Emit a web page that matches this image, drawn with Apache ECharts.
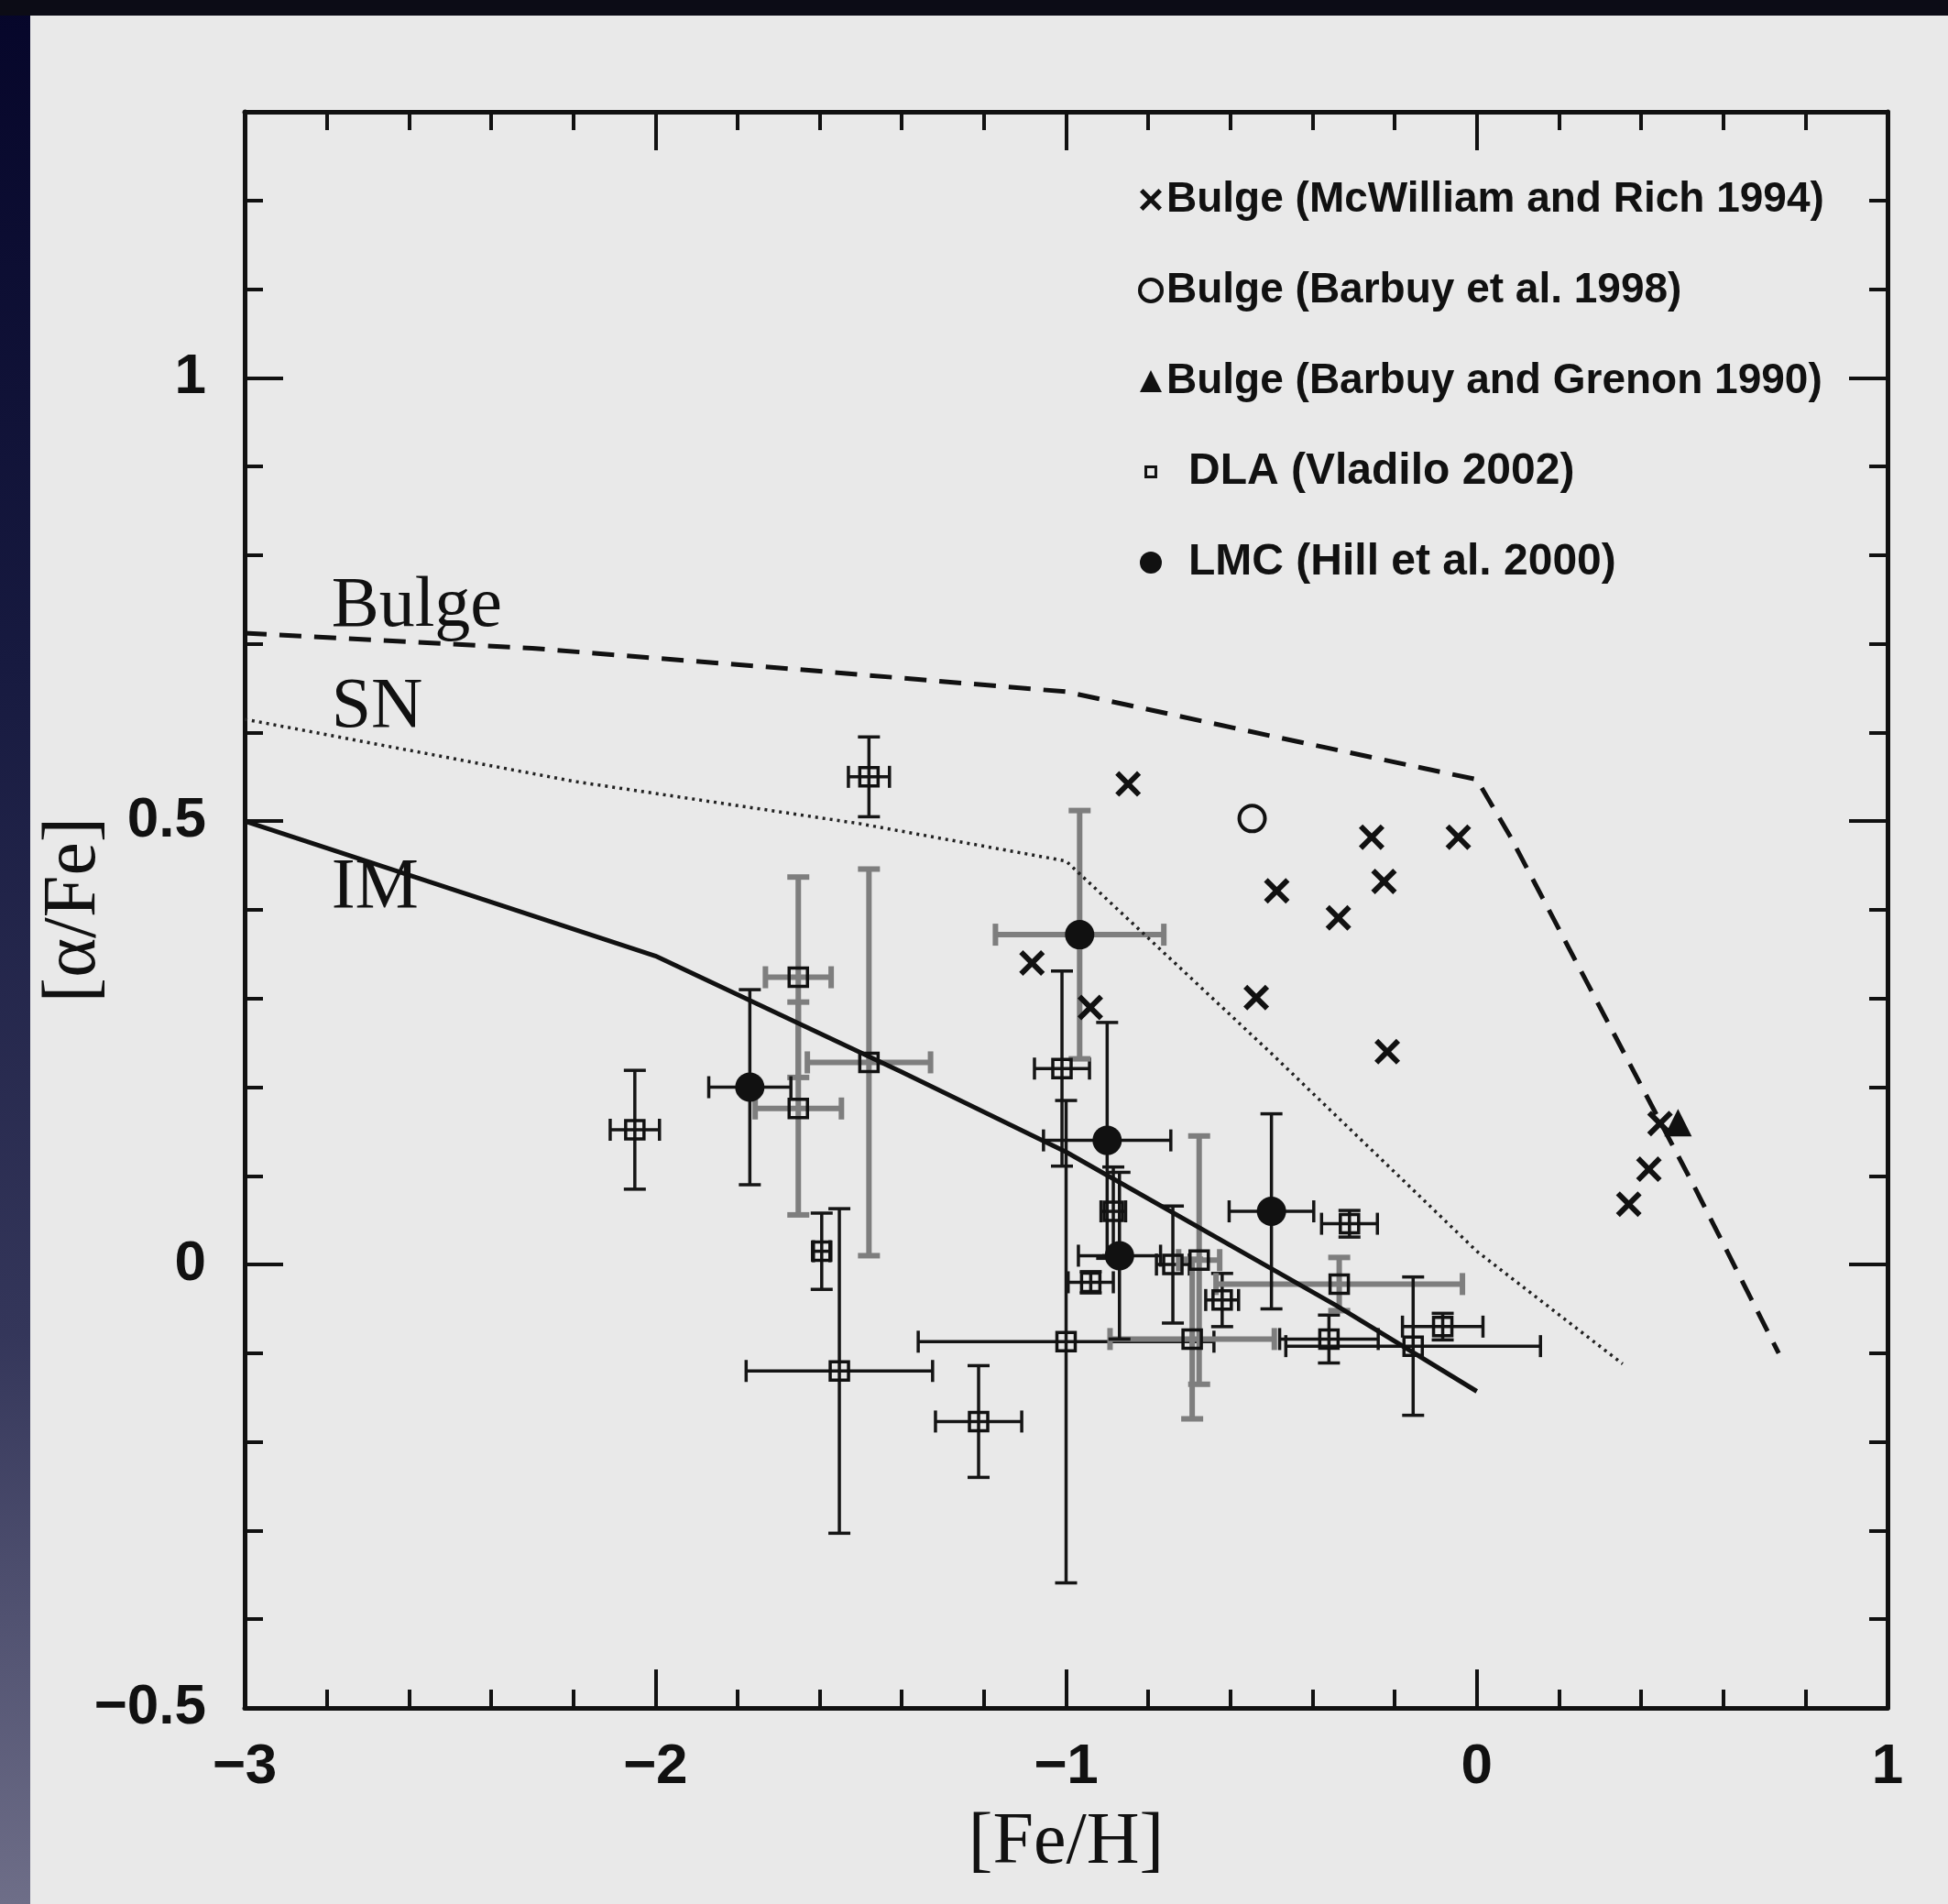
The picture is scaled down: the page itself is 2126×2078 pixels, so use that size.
<!DOCTYPE html>
<html>
<head>
<meta charset="utf-8">
<title>[α/Fe] vs [Fe/H]</title>
<script src="https://cdn.jsdelivr.net/npm/echarts@6.0.0/dist/echarts.min.js"></script>
<style>
  html, body { margin: 0; padding: 0; width: 2126px; height: 2078px; overflow: hidden; background: #e9e9e9; }
  #edgeLeft { position: absolute; left: 0; top: 0; width: 33px; height: 2078px;
    background: linear-gradient(to bottom, #06062a 0%, #171a40 35%, #34365a 70%, #6e6e88 100%); }
  #edgeTop { position: absolute; left: 0; top: 0; width: 2126px; height: 17px; background: #0c0c16; }
  #chart { position: absolute; left: 0; top: 0; width: 2126px; height: 2078px; }
</style>
</head>
<body>
<div id="edgeLeft"></div>
<div id="edgeTop"></div>
<div id="chart"></div>
<script>
// ---- Model tracks ----
const bulgeFeH   = [-3, -2.3, -1.65, -1, -0.5, 0, 0.08, 0.535, 0.735];
const bulgeAlpha = [0.712, 0.695, 0.671, 0.646, 0.596, 0.547, 0.484, 0.083, -0.10];

const snFeH   = [-3, -2.2, -1.5, -1, -0.5, 0, 0.355];
const snAlpha = [0.615, 0.545, 0.497, 0.455, 0.238, 0.015, -0.112];

const imFeH   = [-3, -2, -1.4, -1, -0.343, 0];
const imAlpha = [0.5, 0.348, 0.217, 0.127, -0.046, -0.143];

// ---- Bulge stars ----
const mrFeH   = [-1.083, -0.941, -0.849, -0.537, -0.487, -0.337, -0.256, -0.226, -0.218, -0.045, 0.37, 0.419, 0.446];
const mrAlpha = [0.34, 0.29, 0.542, 0.301, 0.4215, 0.391, 0.482, 0.432, 0.24, 0.482, 0.068, 0.1075, 0.159];

const bFeH   = [-0.547];
const bAlpha = [0.503];

const bgFeH   = [0.49];
const bgAlpha = [0.16];

// ---- DLA systems ----
const dlaFeH      = [-2.05, -1.48, -1.652, -1.652, -1.48, -1.595, -1.552, -1.213, -1.01, -1.0, -0.885, -0.94, -0.74, -0.676, -0.693, -0.62, -0.31, -0.335, -0.36, -0.155, -0.083];
const dlaAlpha    = [0.152, 0.55, 0.324, 0.176, 0.228, 0.015, -0.12, -0.177, 0.221, -0.087, 0.06, -0.02, 0.0, 0.005, -0.084, -0.04, 0.046, -0.022, -0.084, -0.092, -0.07];
const dlaFeHErr   = [0.06, 0.05, 0.08, 0.105, 0.15, 0.02, 0.227, 0.105, 0.067, 0.36, 0.03, 0.055, 0.04, 0.05, 0.2, 0.04, 0.068, 0.30, 0.12, 0.31, 0.098];
const dlaAlphaErr = [0.067, 0.045, 0.113, 0.12, 0.218, 0.043, 0.183, 0.063, 0.11, 0.272, 0.05, 0.012, 0.066, 0.14, 0.09, 0.03, 0.015, 0.03, 0.027, 0.078, 0.015];
const dlaBarGrey  = [0, 0, 1, 1, 1, 0, 0, 0, 0, 0, 0, 0, 0, 1, 1, 0, 0, 1, 0, 0, 0];

// ---- LMC stars ----
const lmcFeH      = [-1.77, -0.967, -0.9, -0.87, -0.5];
const lmcAlpha    = [0.2, 0.372, 0.14, 0.01, 0.06];
const lmcFeHErr   = [0.1, 0.205, 0.155, 0.1, 0.103];
const lmcAlphaErr = [0.11, 0.14, 0.133, 0.094, 0.11];
const lmcBarGrey  = [0, 1, 0, 0, 0];

// ---- Curve captions ----
const captionText  = ['Bulge', 'SN', 'IM'];
const captionFeH   = [-2.79, -2.79, -2.79];
const captionAlpha = [0.741, 0.628, 0.424];

// ---- Axis ticks ----
const xMin = -3, xMax = 1, xStep = 1;
const yMin = -0.5, yMax = 1.3, yStep = 0.5, yMinorStep = 0.1;

const seriesNames = [
  'Bulge (McWilliam and Rich 1994)',
  'Bulge (Barbuy et al. 1998)',
  'Bulge (Barbuy and Grenon 1990)',
  'DLA (Vladilo 2002)',
  'LMC (Hill et al. 2000)'
];

const zip = (xs, ys) => xs.map((x, i) => [x, ys[i]]);
const withErrors = (xs, ys, xe, ye, grey) => xs.map((x, i) => [x, ys[i], xe[i], ye[i], grey[i]]);

const ink = '#111111';
const sans = '"Liberation Sans", Arial, Helvetica, sans-serif';
const serif = '"Liberation Serif", "Times New Roman", serif';
const crossPath = 'path://M1.5,0L5,3.5L8.5,0L10,1.5L6.5,5L10,8.5L8.5,10L5,6.5L1.5,10L0,8.5L3.5,5L0,1.5Z';
const smallSquareIcon = 'path://M0,0M22,22M6,6L16,6L16,16L6,16Z';
const signed = v => String(v).replace('-', '\u2212');

const lineAxis = { show: true, onZero: false, lineStyle: { color: ink, width: 5 } };
const noLine = { show: false, onZero: false };
const majorTick = { show: true, inside: true, length: 42, lineStyle: { color: ink, width: 4 } };
const minorTickY = { show: true, inside: true, length: 20, lineStyle: { color: ink, width: 4 } };
const xMinor = { show: true, splitNumber: 5, length: 20, lineStyle: { color: ink, width: 4 } };
const tickLabel = { fontFamily: sans, fontWeight: 'bold', fontSize: 62, color: ink };

function xAxisDef(pos, labelled) {
  return {
    type: 'value', position: pos, min: xMin, max: xMax, interval: xStep,
    axisLine: lineAxis, axisTick: majorTick, minorTick: xMinor,
    splitLine: { show: false }, minorSplitLine: { show: false },
    axisLabel: labelled ? Object.assign({ margin: 34, formatter: signed }, tickLabel) : { show: false },
    name: labelled ? '[Fe/H]' : '', nameLocation: 'middle', nameGap: 108, nameMoveOverlap: false,
    nameTextStyle: { fontFamily: serif, fontSize: 80, color: ink }
  };
}
function yAxisDef(pos, step, tick, showLine, labelled) {
  return {
    type: 'value', position: pos, offset: 0, min: yMin, max: yMax, interval: step,
    axisLine: showLine ? lineAxis : noLine, axisTick: tick,
    splitLine: { show: false },
    axisLabel: labelled ? Object.assign({ margin: 42, showMaxLabel: false, formatter: signed }, tickLabel) : { show: false },
    name: labelled ? '[\u03b1/Fe]' : '', nameLocation: 'middle', nameRotate: 90, nameGap: 145, nameMoveOverlap: false,
    nameTextStyle: { fontFamily: serif, fontSize: 82, color: ink }
  };
}

function errorBars(params, api) {
  const x = api.value(0), y = api.value(1), xe = api.value(2), ye = api.value(3), grey = api.value(4);
  const l = api.coord([x - xe, y]), r = api.coord([x + xe, y]);
  const t = api.coord([x, y + ye]), b = api.coord([x, y - ye]);
  const style = { stroke: grey ? '#7e7e7e' : '#151515', lineWidth: grey ? 6 : 3.5 };
  const cap = 12;
  const seg = (x1, y1, x2, y2) => ({ type: 'line', shape: { x1, y1, x2, y2 }, style });
  return {
    type: 'group',
    children: [
      seg(l[0], l[1], r[0], r[1]),
      seg(t[0], t[1], b[0], b[1]),
      seg(l[0], l[1] - cap, l[0], l[1] + cap),
      seg(r[0], r[1] - cap, r[0], r[1] + cap),
      seg(t[0] - cap, t[1], t[0] + cap, t[1]),
      seg(b[0] - cap, b[1], b[0] + cap, b[1])
    ]
  };
}

const solidInk = { color: ink, opacity: 1 };
const hollowInk = (w) => ({ color: 'rgba(0,0,0,0)', borderColor: ink, borderWidth: w, opacity: 1 });

const chart = echarts.init(document.getElementById('chart'), null, { renderer: 'canvas' });
chart.setOption({
  animation: false,
  backgroundColor: 'transparent',
  grid: { left: 267, right: 66, top: 122, bottom: 214, containLabel: false },
  xAxis: [xAxisDef('bottom', true), xAxisDef('top', false)],
  yAxis: [
    yAxisDef('left', yStep, majorTick, true, true),
    yAxisDef('left', yMinorStep, minorTickY, false, false),
    yAxisDef('right', yStep, majorTick, true, false),
    yAxisDef('right', yMinorStep, minorTickY, false, false)
  ],
  legend: {
    orient: 'vertical', left: 1237, top: 188, itemWidth: 24, itemHeight: 24, itemGap: 49,
    selectedMode: false,
    textStyle: {
      fontFamily: sans, fontWeight: 'bold', fontSize: 46, color: ink, lineHeight: 50,
      rich: { wide: { fontFamily: sans, fontWeight: 'bold', fontSize: 48, color: ink, lineHeight: 50, padding: [0, 0, 0, 24] } }
    },
    formatter: name => name.indexOf('Bulge') === 0 ? name : '{wide|' + name + '}',
    data: [
      { name: seriesNames[0], icon: crossPath, itemStyle: { color: ink, borderWidth: 0, opacity: 1 } },
      { name: seriesNames[1], icon: 'circle', itemStyle: hollowInk(4) },
      { name: seriesNames[2], icon: 'triangle', itemStyle: { color: ink, borderWidth: 0, opacity: 1 } },
      { name: seriesNames[3], icon: smallSquareIcon, itemStyle: hollowInk(3) },
      { name: seriesNames[4], icon: 'circle', itemStyle: { color: ink, borderWidth: 0, opacity: 1 } }
    ]
  },
  series: [
    { type: 'custom', name: 'DLA errors', renderItem: errorBars, silent: true, z: 2,
      data: withErrors(dlaFeH, dlaAlpha, dlaFeHErr, dlaAlphaErr, dlaBarGrey) },
    { type: 'custom', name: 'LMC errors', renderItem: errorBars, silent: true, z: 2,
      data: withErrors(lmcFeH, lmcAlpha, lmcFeHErr, lmcAlphaErr, lmcBarGrey) },
    { type: 'line', name: 'Bulge model', data: zip(bulgeFeH, bulgeAlpha), showSymbol: false, symbol: 'none', silent: true, z: 3,
      lineStyle: { color: ink, width: 5, type: [24, 14] } },
    { type: 'line', name: 'SN model', data: zip(snFeH, snAlpha), showSymbol: false, symbol: 'none', silent: true, z: 3,
      lineStyle: { color: '#222', width: 3.5, type: [3, 5] } },
    { type: 'line', name: 'IM model', data: zip(imFeH, imAlpha), showSymbol: false, symbol: 'none', silent: true, z: 3,
      lineStyle: { color: ink, width: 5 } },
    { type: 'scatter', name: seriesNames[0], data: zip(mrFeH, mrAlpha), symbol: crossPath, symbolSize: 28, z: 4,
      itemStyle: solidInk },
    { type: 'scatter', name: seriesNames[1], data: zip(bFeH, bAlpha), symbol: 'circle', symbolSize: 28, z: 4,
      itemStyle: hollowInk(4) },
    { type: 'scatter', name: seriesNames[2], data: zip(bgFeH, bgAlpha), symbol: 'triangle', symbolSize: 30, z: 4,
      itemStyle: solidInk },
    { type: 'scatter', name: seriesNames[3], data: zip(dlaFeH, dlaAlpha), symbol: 'rect', symbolSize: 20, z: 4,
      itemStyle: hollowInk(3.5) },
    { type: 'scatter', name: seriesNames[4], data: zip(lmcFeH, lmcAlpha), symbol: 'circle', symbolSize: 32, z: 4,
      itemStyle: solidInk },
    { type: 'scatter', name: 'captions', silent: true, z: 5, symbolSize: 1,
      itemStyle: { color: 'rgba(0,0,0,0)', opacity: 1 },
      data: captionFeH.map((x, i) => [x, captionAlpha[i], captionText[i]]),
      label: { show: true, position: 'right', distance: 0, formatter: p => p.data[2],
        fontFamily: serif, fontSize: 78, color: ink, opacity: 1 } }
  ]
});
</script>
</body>
</html>
